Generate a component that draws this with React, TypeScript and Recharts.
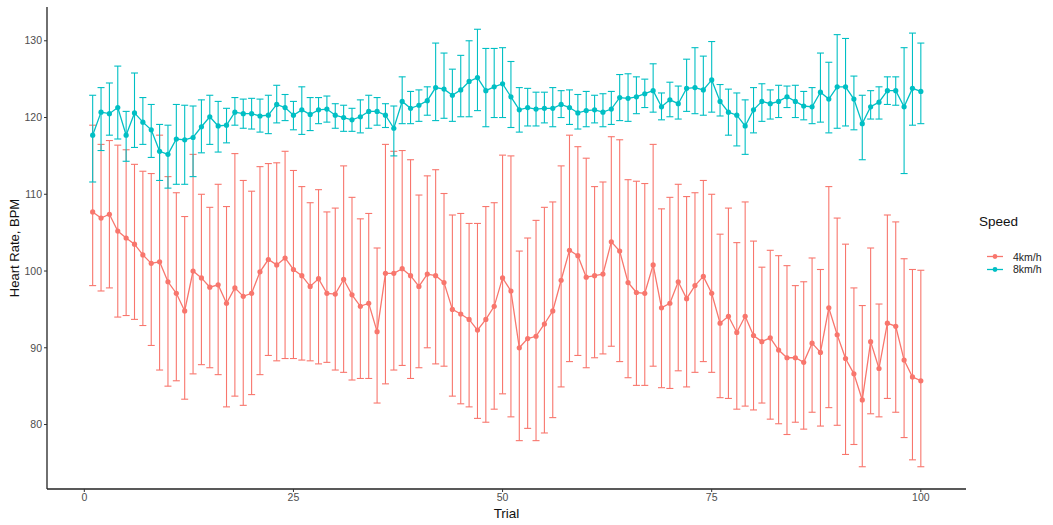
import React from 'react';
import { ComposedChart, Line, XAxis, YAxis, ErrorBar } from 'recharts';

const trials = [1,2,3,4,5,6,7,8,9,10,11,12,13,14,15,16,17,18,19,20,21,22,23,24,25,26,27,28,29,30,31,32,33,34,35,36,37,38,39,40,41,42,43,44,45,46,47,48,49,50,51,52,53,54,55,56,57,58,59,60,61,62,63,64,65,66,67,68,69,70,71,72,73,74,75,76,77,78,79,80,81,82,83,84,85,86,87,88,89,90,91,92,93,94,95,96,97,98,99,100];

const mean4 = [107.7,106.9,107.4,105.2,104.3,103.5,102.1,101.0,101.2,98.6,97.1,94.8,100.0,99.1,97.9,98.2,95.8,97.8,96.7,97.1,99.9,101.5,100.8,101.7,100.2,99.4,98.0,99.0,97.1,97.0,98.9,96.9,95.4,95.8,92.1,99.7,99.7,100.3,99.4,98.0,99.6,99.4,98.5,95.0,94.4,93.7,92.3,93.7,95.4,99.1,97.4,90.0,91.2,91.5,93.1,94.8,98.8,102.7,102.0,99.2,99.4,99.6,103.8,102.6,98.5,97.2,97.1,100.8,95.2,95.8,98.6,96.4,98.1,99.3,97.1,93.2,94.1,92.0,94.1,91.6,90.8,91.3,89.7,88.7,88.7,88.1,90.6,89.4,95.2,91.7,88.6,86.6,83.2,90.8,87.3,93.2,92.8,88.4,86.2,85.7];
const upper4 = [119.0,116.5,117.0,116.4,115.8,113.9,113.0,112.7,117.7,112.3,110.2,107.1,115.2,110.0,108.3,111.3,108.4,115.3,111.8,110.4,113.6,114.0,114.1,115.6,113.1,111.0,108.9,110.6,107.7,108.2,113.7,109.6,106.8,107.5,103.0,116.5,115.6,115.7,114.5,109.9,112.4,113.2,110.1,107.3,107.5,106.2,106.2,108.4,108.9,115.1,115.0,102.6,104.3,106.6,108.3,109.0,113.7,117.7,116.2,114.7,111.0,111.6,117.5,117.1,111.9,111.7,111.4,116.5,108.1,109.6,111.3,109.7,110.2,111.8,110.0,104.8,108.2,103.7,109.0,103.9,100.5,102.7,102.0,100.7,98.1,98.6,101.7,100.2,111.0,106.9,103.5,97.8,95.5,103.0,95.7,107.3,106.4,101.6,100.2,100.1];
const lower4 = [98.1,97.4,97.8,94.0,94.2,93.7,92.9,90.3,87.1,85.0,85.7,83.3,86.6,87.8,87.4,86.5,82.3,83.7,82.5,83.9,86.5,89.0,88.3,88.6,88.6,88.4,88.3,87.9,88.1,87.1,86.8,85.8,86.0,86.0,82.8,85.3,87.1,87.7,86.0,87.4,90.0,87.9,87.6,83.7,82.7,82.3,80.8,80.3,82.0,84.0,81.0,77.9,79.5,77.9,78.9,80.9,84.9,88.2,89.0,87.4,88.7,89.2,90.2,88.2,86.1,85.1,85.1,87.6,84.8,84.7,87.0,84.9,86.8,88.2,86.8,83.5,83.4,82.0,82.4,81.9,82.8,80.7,80.1,78.7,80.3,79.4,81.6,79.8,82.2,79.9,76.1,77.4,74.5,81.4,81.0,83.4,81.6,78.3,75.4,74.5];

const mean8 = [117.7,120.7,120.5,121.3,117.7,120.6,119.4,118.4,115.6,115.2,117.2,117.1,117.4,118.8,120.1,118.9,119.0,120.7,120.5,120.5,120.2,120.3,121.7,121.3,120.3,121.0,120.4,121.0,121.1,120.3,120.0,119.7,120.1,120.8,120.8,120.3,118.6,122.1,121.2,121.6,122.2,123.9,123.7,122.9,123.6,124.7,125.2,123.5,124.0,124.4,122.7,121.0,121.3,121.1,121.2,121.2,121.7,121.3,120.6,120.9,121.0,120.7,121.1,122.6,122.5,122.7,123.1,123.5,121.4,122.3,121.8,123.8,123.9,123.6,124.9,122.1,120.7,120.3,118.9,121.0,122.1,121.8,122.1,122.7,122.1,121.5,121.4,123.3,122.4,124.0,124.0,122.4,119.2,121.4,122.0,123.5,123.5,121.4,123.8,123.4];
const upper8 = [122.9,123.9,124.5,126.7,120.8,125.8,122.6,121.7,119.1,119.0,121.7,121.6,121.5,122.3,122.9,122.1,121.2,122.6,122.4,122.5,122.4,122.9,124.2,123.0,122.1,124.0,122.6,122.6,122.8,121.8,121.6,121.2,122.3,122.9,122.6,121.8,121.5,125.3,123.4,123.6,124.0,129.7,128.4,126.3,128.1,130.0,131.5,129.0,129.0,129.1,127.3,123.9,123.8,123.3,123.3,123.9,123.5,123.6,123.0,123.4,122.9,123.1,123.4,125.6,125.7,125.3,125.0,127.0,123.2,124.6,124.1,127.6,129.1,128.0,129.9,124.3,123.7,123.2,122.3,123.9,124.4,123.6,124.2,124.1,124.2,123.4,123.9,128.4,127.2,130.8,130.3,125.4,122.9,123.5,124.0,125.3,125.3,129.1,131.0,129.7];
const lower8 = [111.6,115.7,117.7,117.2,114.3,116.1,116.5,114.8,111.8,110.8,111.3,111.3,112.3,115.4,116.5,115.5,116.7,119.0,118.6,118.5,118.1,117.9,119.3,119.6,118.4,117.8,118.3,119.2,119.4,118.6,118.2,118.2,118.0,118.6,119.0,118.7,115.0,119.2,119.2,119.5,120.3,119.6,119.9,119.5,120.1,120.1,120.9,118.8,120.0,120.0,118.7,118.1,118.9,118.9,119.3,118.8,120.0,119.1,118.5,118.8,119.3,118.8,119.1,119.6,119.5,120.5,121.3,120.7,119.7,120.1,119.8,120.8,120.5,120.3,120.7,120.2,117.7,116.3,115.2,118.0,119.5,119.8,120.0,121.3,120.0,119.7,119.2,119.4,118.0,118.6,118.9,118.4,114.5,119.8,119.8,121.7,121.6,112.7,119.0,119.2];

const xTicks = [0, 25, 50, 75, 100];
const yTicks = [80, 90, 100, 110, 120, 130];
const seriesNames = ['4km/h', '8km/h'];
const colors = ['#F8766D', '#00BFC4'];

const data = trials.map((t, i) => ({
  trial: t,
  m4: mean4[i],
  e4: [mean4[i] - lower4[i], upper4[i] - mean4[i]],
  m8: mean8[i],
  e8: [mean8[i] - lower8[i], upper8[i] - mean8[i]],
}));

const tickStyle = { fill: '#4D4D4D', fontSize: 10.5, fontFamily: 'Liberation Sans, Arial, sans-serif' };

export default function App() {
  return (
    <div style={{ position: 'absolute', left: 0, top: 0, width: 1053, height: 525, background: '#fff', fontFamily: 'Liberation Sans, Arial, sans-serif' }}>
      <ComposedChart width={1053} height={525} data={data} margin={{ top: 7, right: 87, bottom: 0, left: 0 }}>
        <XAxis
          type="number"
          dataKey="trial"
          domain={[-4.46, 105.4]}
          allowDataOverflow
          ticks={xTicks}
          tickSize={3}
          tickMargin={2}
          tick={tickStyle}
          axisLine={{ stroke: '#222', strokeWidth: 1.3 }}
          tickLine={{ stroke: '#333', strokeWidth: 1 }}
          height={36}
          label={{ value: 'Trial', position: 'insideBottom', offset: 7, fill: '#111', fontSize: 13.5 }}
        />
        <YAxis
          type="number"
          domain={[71.6, 134.4]}
          allowDataOverflow
          ticks={yTicks}
          tickSize={3}
          tickMargin={2}
          tick={tickStyle}
          axisLine={{ stroke: '#222', strokeWidth: 1.3 }}
          tickLine={{ stroke: '#333', strokeWidth: 1 }}
          width={47}
          label={{ value: 'Heart Rate, BPM', angle: -90, position: 'insideLeft', offset: 14, fill: '#111', fontSize: 13, style: { textAnchor: 'middle' } }}
        />
        <Line
          dataKey="m4"
          name={seriesNames[0]}
          stroke={colors[0]}
          strokeWidth={1.3}
          dot={{ r: 2.6, fill: colors[0], stroke: colors[0], strokeWidth: 0 }}
          isAnimationActive={false}
        >
          <ErrorBar dataKey="e4" width={3.5} stroke={colors[0]} strokeWidth={1.1} direction="y" />
        </Line>
        <Line
          dataKey="m8"
          name={seriesNames[1]}
          stroke={colors[1]}
          strokeWidth={1.3}
          dot={{ r: 2.6, fill: colors[1], stroke: colors[1], strokeWidth: 0 }}
          isAnimationActive={false}
        >
          <ErrorBar dataKey="e8" width={3.5} stroke={colors[1]} strokeWidth={1.1} direction="y" />
        </Line>
      </ComposedChart>
      <div style={{ position: 'absolute', left: 979, top: 214, fontSize: 13.5, color: '#111' }}>Speed</div>
      {seriesNames.map((n, i) => (
        <div key={n} style={{ position: 'absolute', left: 986, top: 250 + i * 12.5, height: 13, display: 'flex', alignItems: 'center' }}>
          <svg width={18} height={13} style={{ display: 'block' }}>
            <line x1={1} y1={6.5} x2={17} y2={6.5} stroke={colors[i]} strokeWidth={1.3} />
            <circle cx={9} cy={6.5} r={2.4} fill={colors[i]} />
          </svg>
          <span style={{ marginLeft: 9, fontSize: 10.5, color: '#222' }}>{n}</span>
        </div>
      ))}
    </div>
  );
}
